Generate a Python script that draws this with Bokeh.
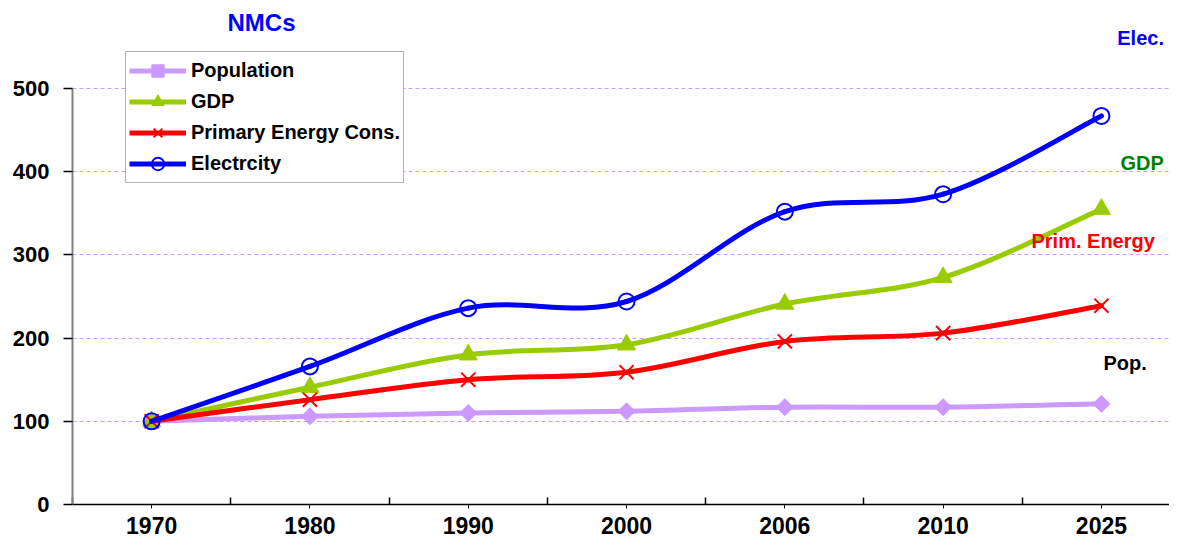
import numpy as np
from bokeh.plotting import figure
from bokeh.models import Range1d, FixedTicker, Legend, LegendItem, Label
from bokeh.embed import file_html
from bokeh.resources import INLINE

# ---------------- data ----------------
years = ["1970", "1980", "1990", "2000", "2006", "2010", "2025"]
population = [100, 106, 110, 112, 117, 117, 121]
gdp = [100, 141, 180, 192, 241, 273, 355]
primary_energy = [100, 126, 150, 159, 196, 206, 239]
electricity = [100, 166, 236, 244, 352, 373, 467]
y_ticks = [0, 100, 200, 300, 400, 500]

FONT = "Liberation Sans"
idx = list(range(len(years)))

p = figure(width=1169, height=543,
           x_range=Range1d(-0.5, 6.43), y_range=Range1d(0, 605.8),
           output_backend="svg", toolbar_location=None,
           min_border_left=72, min_border_right=0, min_border_top=0, min_border_bottom=39)
p.outline_line_color = None
p.background_fill_color = "white"

# axes
xa = p.xaxis[0]
xa.ticker = FixedTicker(ticks=idx, minor_ticks=[i - 0.5 for i in range(len(years) + 1)])
xa.major_label_overrides = {i: y for i, y in enumerate(years)}
xa.axis_line_color = "black"
xa.axis_line_width = 1.5
xa.major_tick_in = 0
xa.major_tick_out = 4
xa.major_tick_line_color = "black"
xa.minor_tick_in = 7
xa.minor_tick_out = 0
xa.minor_tick_line_color = "black"
xa.minor_tick_line_width = 1.5
xa.major_label_text_font = FONT
xa.major_label_text_font_style = "bold"
xa.major_label_text_font_size = "23px"
xa.major_label_text_color = "black"
xa.major_label_standoff = 8

ya = p.yaxis[0]
ya.ticker = FixedTicker(ticks=y_ticks, minor_ticks=[])
ya.bounds = (0, 500)
ya.axis_line_color = "#808080"
ya.axis_line_width = 2
ya.major_tick_in = 0
ya.major_tick_out = 9
ya.major_tick_line_color = "black"
ya.major_tick_line_width = 1.5
ya.major_label_text_font = FONT
ya.major_label_text_font_style = "bold"
ya.major_label_text_font_size = "22px"
ya.major_label_text_color = "black"
ya.major_label_standoff = 14

p.xgrid.grid_line_color = None
p.ygrid.ticker = FixedTicker(ticks=y_ticks[1:])
p.ygrid.grid_line_color = "#cc99ff"
p.ygrid.grid_line_dash = "4 3"
p.ygrid.grid_line_width = 1


def smooth(vals):
    """Catmull-Rom style bezier segments (like Excel's smoothed lines)."""
    n = len(vals)
    pts = [np.array([float(i), float(v)]) for i, v in enumerate(vals)]
    seg = {k: [] for k in ["x0", "y0", "x1", "y1", "cx0", "cy0", "cx1", "cy1"]}
    for i in range(n - 1):
        pa = pts[i - 1] if i > 0 else pts[i]
        pd = pts[i + 2] if i + 2 < n else pts[i + 1]
        c1 = pts[i] + (pts[i + 1] - pa) / 6.0
        c2 = pts[i + 1] - (pd - pts[i]) / 6.0
        seg["x0"].append(pts[i][0]); seg["y0"].append(pts[i][1])
        seg["x1"].append(pts[i + 1][0]); seg["y1"].append(pts[i + 1][1])
        seg["cx0"].append(c1[0]); seg["cy0"].append(c1[1])
        seg["cx1"].append(c2[0]); seg["cy1"].append(c2[1])
    return seg


series = [
    ("Population", population, "#cc99ff",
     dict(marker="square", angle=np.pi / 4, size=12, fill_color="#cc99ff", line_color="#cc99ff")),
    ("GDP", gdp, "#99cc00",
     dict(marker="triangle", size=18, fill_color="#99cc00", line_color="#99cc00")),
    ("Primary Energy Cons.", primary_energy, "#ff0000",
     dict(marker="x", size=20, line_color="#ff0000", line_width=2)),
    ("Electrcity", electricity, "#0000ff",
     dict(marker="circle", size=16, fill_color=None, line_color="#0000ff", line_width=2)),
]

items = []
for name, vals, color, mk in series:
    s = smooth(vals)
    p.bezier(x0=s["x0"], y0=s["y0"], x1=s["x1"], y1=s["y1"],
             cx0=s["cx0"], cy0=s["cy0"], cx1=s["cx1"], cy1=s["cy1"],
             line_color=color, line_width=5, line_cap="round")
    sc = p.scatter(x=idx, y=vals, **mk)
    dummy = p.line(x=[np.nan], y=[np.nan], line_color=color, line_width=5)
    items.append(LegendItem(label=name, renderers=[dummy, sc]))

legend = Legend(items=items, location=(53, 321), orientation="vertical",
                glyph_width=57, glyph_height=31, label_height=31, label_width=207,
                spacing=0, padding=3, margin=0, label_standoff=5,
                label_text_font=FONT, label_text_font_style="bold",
                label_text_font_size="20px", label_text_color="black",
                border_line_color="#666666", border_line_width=1.5,
                background_fill_color="white", background_fill_alpha=1)
p.add_layout(legend)

labels = [
    ("NMCs", 0.694, 579.3, "#0000ff", "24px", "center"),
    ("Elec.", 6.10, 561.3, "#0000ff", "20px", "left"),
    ("GDP", 6.12, 409.9, "#008000", "20px", "left"),
    ("Prim. Energy", 5.558, 317.3, "#ff0000", "20px", "left"),
    ("Pop.", 6.013, 169.5, "black", "20px", "left"),
]
for txt, x, y, c, fs, al in labels:
    p.add_layout(Label(x=x, y=y, text=txt, text_color=c, text_font=FONT,
                       text_font_style="bold", text_font_size=fs,
                       text_align=al, text_baseline="middle"))

open("out.html", "w").write(file_html(p, INLINE))
